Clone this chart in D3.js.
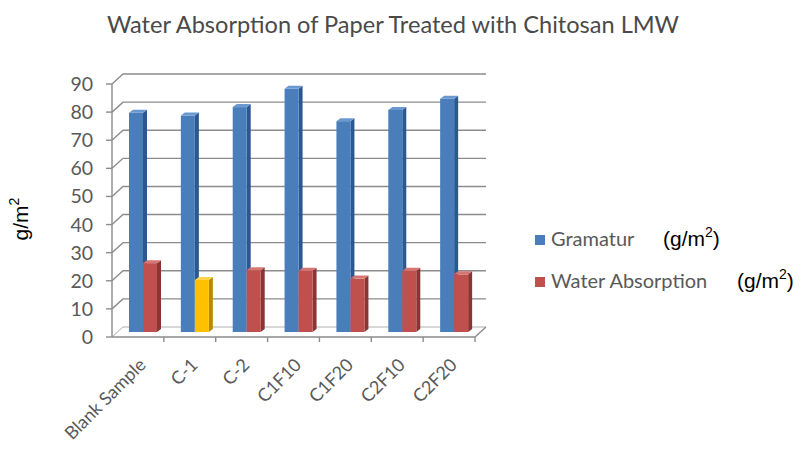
<!DOCTYPE html>
<html><head><meta charset="utf-8">
<script src="https://cdn.jsdelivr.net/npm/d3@7"></script>
<style>body{margin:0;background:#fff}svg{display:block}</style>
</head><body>
<svg id="c" width="804" height="451"></svg>
<script>
const categories = ["Blank Sample","C-1","C-2","C1F10","C1F20","C2F10","C2F20"];
const gramatur = [78, 77, 80, 86.5, 75, 79, 83];
const waterAbsorption = [24.5, 18.5, 22, 21.8, 19, 21.8, 20.5];
const yTicks = [0,10,20,30,40,50,60,70,80,90];
const seriesNames = ["Gramatur","Water Absorption"];
const highlightCategory = "C-1";

const svg = d3.select("#c");
const textGray = "#595959";
const gridCol = "#8c8c8c";
const depthX = 11, depthY = -10;
const sansC = "Lato, 'Open Sans', sans-serif";
const arial = "'Liberation Sans', Arial, sans-serif";

const x = d3.scaleBand().domain(categories).range([112, 475]);
const yF = d3.scaleLinear().domain([0, 90]).range([337, 84]);
const yBar = d3.scaleLinear().domain([0, 90]).range([332, 79]);

// Title
svg.append("text").attr("x", 107).attr("y", 33)
  .attr("font-family", sansC).attr("font-size", 23)
  .attr("textLength", 572).attr("lengthAdjust", "spacingAndGlyphs")
  .attr("fill", "#4a4a4a").text("Water Absorption of Paper Treated with Chitosan LMW");

// grid lines (side wall diagonals + back wall)
const g = svg.append("g");
yTicks.forEach(t => {
  const yf = yF(t);
  g.append("path").attr("d", `M112,${yf}L${112+depthX},${yf+depthY}L${475+depthX},${yf+depthY}`)
    .attr("fill", "none").attr("stroke", t > 0 ? gridCol : "#b0b0b0").attr("stroke-width", t > 0 ? 1.4 : 1);
  g.append("line").attr("x1", 106).attr("x2", 112).attr("y1", yf).attr("y2", yf)
    .attr("stroke", gridCol).attr("stroke-width", 1.4);
  g.append("text").attr("x", 93).attr("y", yf + 7).attr("text-anchor", "end")
    .attr("font-family", sansC).attr("font-size", 19.5)
    .attr("fill", textGray).text(t);
});
// left axis
g.append("line").attr("x1", 112).attr("x2", 112).attr("y1", yF(0)).attr("y2", yF(90))
  .attr("stroke", gridCol).attr("stroke-width", 1.4);
// floor front edge + right diagonal
g.append("path").attr("d", `M112,${yF(0)}L475,${yF(0)}L${475+depthX},${yF(0)+depthY}`)
  .attr("fill", "none").attr("stroke", gridCol).attr("stroke-width", 1.4);
// x ticks
categories.forEach(c => {
  const xe = x(c) + x.bandwidth();
  g.append("line").attr("x1", xe).attr("x2", xe).attr("y1", yF(0)).attr("y2", yF(0) + 5)
    .attr("stroke", gridCol).attr("stroke-width", 1.4);
});

// bars
const bw = 14, dx = 4, dy = 3;
function bar3d(x0, v, front, side, top) {
  const yt = yBar(v), yb = yBar(0);
  const gg = svg.append("g");
  gg.append("polygon").attr("points",
    `${x0+bw},${yt} ${x0+bw+dx},${yt-dy} ${x0+bw+dx},${yb-dy} ${x0+bw},${yb}`).attr("fill", side);
  gg.append("rect").attr("x", x0).attr("y", yt).attr("width", bw).attr("height", yb - yt).attr("fill", front);
  gg.append("polygon").attr("points",
    `${x0},${yt} ${x0+dx},${yt-dy} ${x0+bw+dx},${yt-dy} ${x0+bw},${yt}`).attr("fill", top);
}
const blueC = ["#4a7ebb", "#2b5891", "#6b98d0"];
const redC = ["#c0504d", "#8a3533", "#d77572"];
const yelC = ["#ffc000", "#b98a00", "#ffd44d"];
categories.forEach((c, i) => {
  const x0 = x(c) + 17;
  bar3d(x0, gramatur[i], ...blueC);
  const cols = c === highlightCategory ? yelC : redC;
  bar3d(x0 + bw, waterAbsorption[i], ...cols);
});

// x labels
categories.forEach(c => {
  const cx = x(c) + x.bandwidth() / 2 + 9;
  svg.append("text").attr("transform", `translate(${cx},${366}) rotate(-45)`)
    .attr("text-anchor", "end").attr("font-family", sansC)
    .attr("font-size", 18).attr("fill", textGray).text(c);
});

// y axis title
svg.append("text").attr("transform", "translate(28,219) rotate(-90)").attr("text-anchor", "middle")
  .attr("font-family", arial).attr("font-size", 21).attr("fill", "#000")
  .html('g/m<tspan dy="-9" font-size="14">2</tspan>');

// legend
const leg = [
  {name: seriesNames[0], col: blueC[0], y: 246, ux: 663},
  {name: seriesNames[1], col: redC[0], y: 288, ux: 737}
];
leg.forEach(l => {
  svg.append("rect").attr("x", 535).attr("y", l.y - 11).attr("width", 10).attr("height", 10).attr("fill", l.col);
  svg.append("text").attr("x", 551).attr("y", l.y).attr("font-family", sansC)
    .attr("font-size", 20).attr("fill", textGray).text(l.name);
  svg.append("text").attr("x", l.ux).attr("y", l.y).attr("font-family", arial)
    .attr("font-size", 21).attr("fill", "#000")
    .html('(g/m<tspan dy="-9" font-size="14">2</tspan><tspan dy="9">)</tspan>');
});
</script>
</body></html>
